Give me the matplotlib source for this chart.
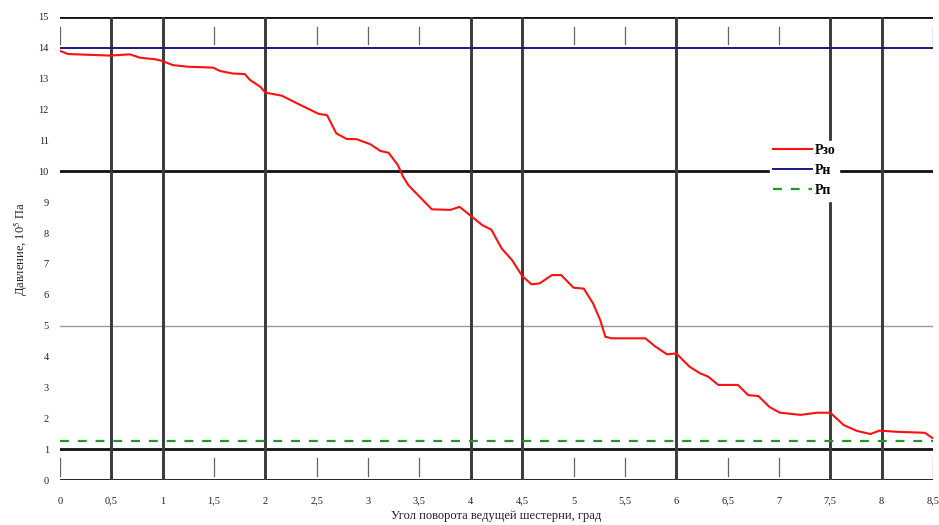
import matplotlib
matplotlib.use("Agg")
import matplotlib.pyplot as plt

# ---------------- data ----------------
angle = [0, 0.08, 0.49, 0.68, 0.78, 0.93, 1.0, 1.1, 1.24, 1.49,
         1.56, 1.68, 1.8, 1.85, 1.95, 2.0, 2.16, 2.34, 2.52, 2.6,
         2.69, 2.79, 2.89, 3.02, 3.12, 3.2, 3.29, 3.34, 3.39, 3.5,
         3.62, 3.8, 3.89, 4.01, 4.11, 4.2, 4.3, 4.4, 4.5, 4.59,
         4.67, 4.79, 4.88, 5.0, 5.1, 5.19, 5.26, 5.31, 5.37, 5.7,
         5.79, 5.91, 6.0, 6.13, 6.23, 6.31, 6.41, 6.6, 6.7, 6.8,
         6.91, 7.01, 7.21, 7.37, 7.5, 7.63, 7.76, 7.89, 7.98, 8.16,
         8.42, 8.5]
p_zo = [13.9, 13.8, 13.75, 13.79, 13.68, 13.63, 13.57, 13.44, 13.39, 13.36,
        13.25, 13.17, 13.15, 12.96, 12.74, 12.55, 12.45, 12.15, 11.86, 11.82,
        11.23, 11.05, 11.04, 10.88, 10.66, 10.6, 10.2, 9.83, 9.56, 9.18,
        8.77, 8.75, 8.85, 8.53, 8.26, 8.11, 7.5, 7.13, 6.61, 6.34,
        6.37, 6.64, 6.64, 6.23, 6.2, 5.72, 5.18, 4.64, 4.59, 4.59,
        4.34, 4.07, 4.1, 3.67, 3.46, 3.35, 3.08, 3.08, 2.75, 2.72,
        2.36, 2.18, 2.11, 2.18, 2.18, 1.78, 1.59, 1.49, 1.6, 1.56,
        1.53, 1.35]
p_n = 14.0
p_p = 1.25

series_labels = ["Рзо", "Рн", "Рп"]
x_ticks = [0, 0.5, 1, 1.5, 2, 2.5, 3, 3.5, 4, 4.5, 5, 5.5, 6, 6.5, 7, 7.5, 8, 8.5]
x_tick_labels = ["0", "0,5", "1", "1,5", "2", "2,5", "3", "3,5", "4", "4,5",
                 "5", "5,5", "6", "6,5", "7", "7,5", "8", "8,5"]
y_ticks = list(range(0, 16))
x_label = "Угол поворота ведущей шестерни, град"
y_label = "Давление, 10$^5$ Па"

# grid layout (weird original gridlines)
h_major = [0, 1, 10, 15]
h_minor = [5]
v_major = [0.5, 1, 2, 4, 4.5, 6, 7.5, 8]

plt.rcParams['font.family'] = ['Liberation Serif', 'DejaVu Serif']
plt.rcParams['mathtext.fontset'] = 'stix'

fig = plt.figure(figsize=(9.39, 5.25), dpi=100)
ax = fig.add_axes([60/939, 1-480/525, 873/939, 463/525])
ax.set_xlim(0, 8.5)
ax.set_ylim(0, 15)
for s in ax.spines.values():
    s.set_visible(False)

# short ticks in the top and bottom bands
for xv in x_ticks:
    ax.plot([xv, xv], [14.12, 14.67], color='#666666', lw=0.9, zorder=1)
    ax.plot([xv, xv], [0.13, 0.70], color='#666666', lw=0.9, zorder=1)

for yv in h_major:
    ax.axhline(yv, color='#111111', lw=2.0, zorder=2)
for yv in h_minor:
    ax.axhline(yv, color='#999999', lw=1.0, zorder=2)
for xv in v_major:
    ax.axvline(xv, color='#3a3a3a', lw=2.1, zorder=2)

l1, = ax.plot(angle, p_zo, color='#ff1010', lw=1.5, zorder=5, label=series_labels[0])
l2 = ax.axhline(p_n, color='#1a1a80', lw=1.4, zorder=4, label=series_labels[1])
l3 = ax.axhline(p_p, color='#1e9a1e', lw=1.6, ls=(0, (4, 4)), zorder=4, label=series_labels[2])

leg = ax.legend(handles=[l1, l2, l3], loc='center', bbox_to_anchor=(0.853, 0.668),
                frameon=True, fancybox=False, framealpha=1, facecolor='white',
                edgecolor='white', fontsize=10, handlelength=2.8, handletextpad=0.2,
                labelspacing=0.5, borderpad=0.25, borderaxespad=0)
leg.set_zorder(10)
for t in leg.get_texts():
    t.set_fontweight('bold')

ax.set_xticks(x_ticks)
ax.set_xticklabels(x_tick_labels)
ax.set_yticks(y_ticks)
ax.tick_params(axis='both', length=0, labelsize=7.5, colors='#222222')
ax.tick_params(axis='x', pad=12)
ax.tick_params(axis='y', pad=8)

ax.set_xlabel(x_label, fontsize=9, labelpad=3, color='#222222')
ax.set_ylabel(y_label, fontsize=9, labelpad=6, color='#222222')

fig.savefig("out.png", dpi=100)
